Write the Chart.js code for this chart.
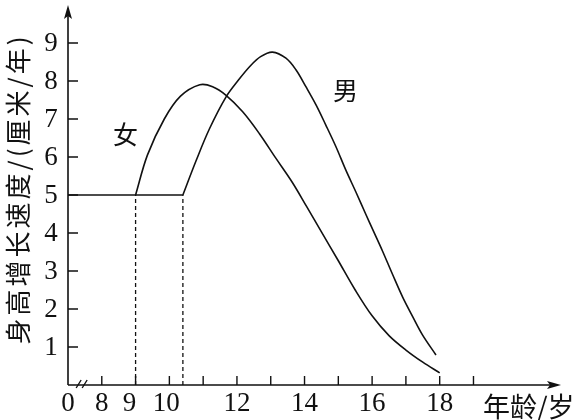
<!DOCTYPE html>
<html>
<head>
<meta charset="utf-8">
<script src="https://cdn.jsdelivr.net/npm/chart.js@4.4.0/dist/chart.umd.min.js"></script>
<style>
    html, body { margin: 0; padding: 0; background: #fff; }
</style>
</head>
<body>
<canvas id="growth-chart" width="581" height="420"></canvas>
<script>
// Values (age in years, growth rate in cm/year)
const girlAge  = [9, 9.35, 9.85, 10.33, 10.9, 11.28, 11.67, 12.17, 12.66, 13.15, 13.64, 14.06, 14.5, 15.0, 15.5, 16.0, 16.5, 17.0, 17.5, 18];
const girlRate = [5, 6.05, 7.0, 7.6, 7.9, 7.85, 7.63, 7.19, 6.62, 5.97, 5.33, 4.7, 4.03, 3.27, 2.5, 1.82, 1.3, 0.92, 0.6, 0.32];
const boyAge   = [10.4, 10.79, 11.18, 11.67, 12.05, 12.4, 12.7, 13.05, 13.45, 13.75, 14.04, 14.34, 14.63, 14.93, 15.22, 15.52, 15.8, 16.05, 16.31, 16.6, 16.9, 17.2, 17.49, 17.89];
const boyRate  = [5, 5.9, 6.73, 7.57, 8.03, 8.4, 8.64, 8.76, 8.6, 8.29, 7.85, 7.37, 6.84, 6.27, 5.66, 5.08, 4.52, 4.03, 3.52, 2.92, 2.32, 1.8, 1.32, 0.79];
// flat part before the growth spurt
const flatAge  = [7, 10.4];
const flatRate = [5, 5];
const girlStart = 9;
const boyStart = 10.4;

// axis: the origin sits at 7 on the scale and is labelled "0" (broken axis)
const xOrigin = 7;
const xTickMarks  = [8, 9, 10, 11, 12, 13, 14, 15, 16, 17, 18, 19];
const xTickValues = [7, 8, 9, 10, 12, 14, 16, 18];
const xTickLabels = ['0', '8', '9', '10', '12', '14', '16', '18'];
const yTicks = [1, 2, 3, 4, 5, 6, 7, 8, 9];

const INK = '#111';

function pts(xs, ys) {
    return xs.map((x, i) => ({ x: x, y: ys[i] }));
}

const axesPlugin = {
    id: 'axes',
    afterDraw(chart) {
        const ctx = chart.ctx;
        const xs = chart.scales.x;
        const ys = chart.scales.y;
        const ox = xs.getPixelForValue(xOrigin);
        const oy = ys.getPixelForValue(0);
        const right = chart.chartArea.right;
        const top = chart.chartArea.top;

        ctx.save();
        ctx.strokeStyle = INK;
        ctx.fillStyle = INK;
        ctx.lineWidth = 1.6;

        // axis lines
        ctx.beginPath();
        ctx.moveTo(ox, oy);
        ctx.lineTo(right - 8, oy);
        ctx.moveTo(ox, oy);
        ctx.lineTo(ox, top + 8);
        ctx.stroke();

        // arrow heads
        ctx.beginPath();
        ctx.moveTo(right, oy);
        ctx.lineTo(right - 14, oy - 4);
        ctx.lineTo(right - 11, oy);
        ctx.lineTo(right - 14, oy + 4);
        ctx.closePath();
        ctx.fill();
        ctx.beginPath();
        ctx.moveTo(ox, top);
        ctx.lineTo(ox - 4, top + 14);
        ctx.lineTo(ox, top + 11);
        ctx.lineTo(ox + 4, top + 14);
        ctx.closePath();
        ctx.fill();

        // tick marks (inside)
        ctx.lineWidth = 1.4;
        ctx.beginPath();
        xTickMarks.forEach(v => {
            const px = xs.getPixelForValue(v);
            ctx.moveTo(px, oy);
            ctx.lineTo(px, oy - 9);
        });
        yTicks.forEach(v => {
            const py = ys.getPixelForValue(v);
            ctx.moveTo(ox, py);
            ctx.lineTo(ox + 10, py);
        });
        ctx.stroke();

        // axis break mark
        const bx = xs.getPixelForValue(7.3);
        ctx.beginPath();
        ctx.moveTo(bx - 2, oy + 3);
        ctx.lineTo(bx + 3, oy - 5);
        ctx.moveTo(bx + 4, oy + 3);
        ctx.lineTo(bx + 9, oy - 5);
        ctx.stroke();

        // tick labels
        ctx.font = '27px "Liberation Serif", "Times New Roman", serif';
        ctx.textAlign = 'center';
        ctx.textBaseline = 'middle';
        xTickValues.forEach((v, i) => {
            let px = xs.getPixelForValue(v);
            if (xTickLabels[i] === '9') px -= 6;
            if (xTickLabels[i] === '10') px -= 3;
            ctx.fillText(xTickLabels[i], px, oy + 19);
        });
        yTicks.forEach(v => {
            ctx.fillText(String(v), ox - 17, ys.getPixelForValue(v) + 1);
        });

        // series labels
        ctx.font = '25px "Noto Sans CJK SC"';
        ctx.fillText('女', xs.getPixelForValue(8.7), ys.getPixelForValue(6.59));
        ctx.fillText('男', xs.getPixelForValue(15.21), ys.getPixelForValue(7.74));

        // axis titles
        ctx.font = '27px "Noto Sans CJK SC"';
        ctx.textAlign = 'left';
        ctx.fillText('年龄/岁', 483, 407);

        ctx.save();
        ctx.translate(18, 189);
        ctx.rotate(-Math.PI / 2);
        ctx.textAlign = 'center';
        ctx.font = '26px "Noto Sans CJK SC"';
        ctx.letterSpacing = '3px';
        ctx.fillText('身高增长速度/(厘米/年)', 0, 0);
        ctx.restore();

        ctx.restore();
    }
};

const lineStyle = {
    borderColor: INK,
    borderWidth: 1.6,
    pointRadius: 0,
    fill: false
};

new Chart(document.getElementById('growth-chart').getContext('2d'), {
    type: 'line',
    data: {
        datasets: [
            Object.assign({ label: '女', data: pts(girlAge, girlRate), tension: 0.35 }, lineStyle),
            Object.assign({ label: '男', data: pts(boyAge, boyRate), tension: 0.35 }, lineStyle),
            Object.assign({ label: 'flat', data: pts(flatAge, flatRate), tension: 0 }, lineStyle),
            Object.assign({ label: 'g-drop', data: pts([girlStart, girlStart], [0, 5]), tension: 0 }, lineStyle, { borderWidth: 1.3, borderDash: [4, 3] }),
            Object.assign({ label: 'b-drop', data: pts([boyStart, boyStart], [0, 5]), tension: 0 }, lineStyle, { borderWidth: 1.3, borderDash: [4, 3] })
        ]
    },
    options: {
        responsive: false,
        animation: false,
        devicePixelRatio: 1,
        layout: {
            padding: { left: 68, right: 20, top: 5, bottom: 35 }
        },
        scales: {
            x: { type: 'linear', display: false, min: xOrigin, max: 21.59 },
            y: { type: 'linear', display: false, min: 0, max: 10 }
        },
        plugins: {
            legend: { display: false },
            tooltip: { enabled: false }
        }
    },
    plugins: [axesPlugin]
});
</script>
</body>
</html>
